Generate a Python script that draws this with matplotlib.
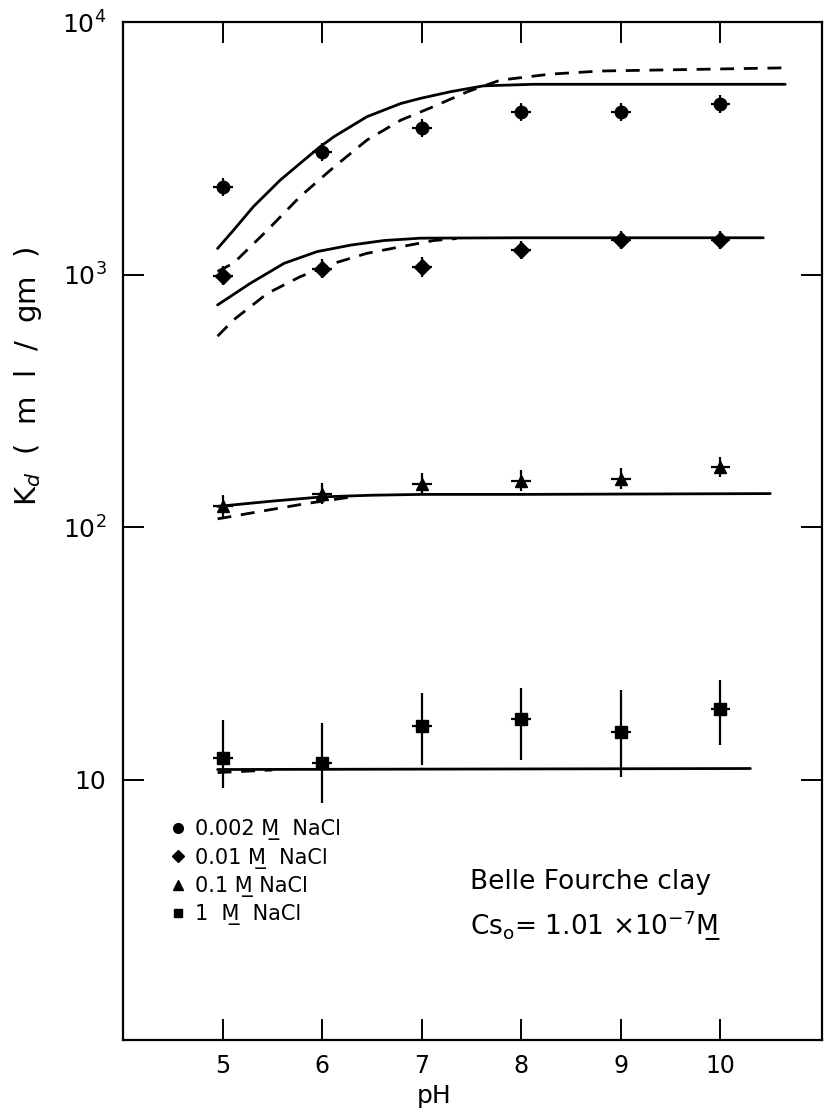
import numpy as np
import matplotlib
matplotlib.use("Agg")
import matplotlib.pyplot as plt
from matplotlib.lines import Line2D

plt.rcParams['font.family'] = ['DejaVu Sans']
plt.rcParams['mathtext.fontset'] = 'dejavusans'

# measured Kd values (ml/gm) vs pH, with error bar limits
ph = [5, 6, 7, 8, 9, 10]

kd_0002 = [2220, 3060, 3810, 4400, 4400, 4740]
lo_0002 = [2040, 2810, 3500, 4040, 4040, 4350]
hi_0002 = [2420, 3330, 4150, 4790, 4790, 5160]

kd_001 = [990, 1055, 1070, 1250, 1370, 1370]
lo_001 = [910, 970, 980, 1150, 1260, 1260]
hi_001 = [1080, 1150, 1170, 1360, 1490, 1490]

kd_01 = [121, 136, 149, 153, 156, 173]
lo_01 = [110, 124, 136, 139, 142, 158]
hi_01 = [134, 150, 164, 168, 172, 190]

kd_1 = [12.2, 11.7, 16.4, 17.4, 15.5, 19.1]
lo_1 = [9.3, 8.1, 11.5, 12.0, 10.3, 13.8]
hi_1 = [17.3, 16.8, 22.1, 23.1, 22.7, 24.9]

ph_err = 0.1

# model curves (solid and dashed)
top_solid_ph = [4.95, 5.11, 5.31, 5.58, 5.78, 5.98, 6.12, 6.45, 6.79, 6.99, 7.29, 7.62, 8.12, 9.0, 10.65]
top_solid_k = [1270, 1500, 1860, 2370, 2760, 3210, 3520, 4220, 4760, 4990, 5300, 5590, 5670, 5670, 5670]
top_dash_ph = [4.95, 5.11, 5.45, 5.78, 6.12, 6.45, 6.79, 7.12, 7.46, 7.79, 8.29, 8.8, 9.8, 10.67]
top_dash_k = [1030, 1110, 1500, 2040, 2670, 3410, 4090, 4630, 5300, 5890, 6220, 6400, 6500, 6590]

mid_solid_ph = [4.95, 5.28, 5.62, 5.95, 6.29, 6.62, 6.99, 8.0, 10.43]
mid_solid_k = [759, 925, 1110, 1234, 1310, 1365, 1395, 1400, 1400]
mid_dash_ph = [4.95, 5.11, 5.45, 5.78, 6.12, 6.45, 6.79, 7.12, 7.35]
mid_dash_k = [571, 662, 843, 982, 1110, 1215, 1290, 1365, 1390]

low_solid_ph = [4.95, 5.5, 6.0, 6.5, 7.0, 8.0, 10.5]
low_solid_k = [121, 127, 132, 134, 135, 135, 136]
low_dash_ph = [4.95, 5.4, 5.83, 6.3]
low_dash_k = [108, 116, 124, 132]

one_solid_ph = [4.95, 10.3]
one_solid_k = [11.0, 11.1]
one_dash_ph = [4.95, 5.5]
one_dash_k = [10.7, 10.95]

M_ = 'M\u0332'  # underlined M

fig = plt.figure(figsize=(8.27, 11.13), dpi=100)
ax = fig.add_axes([0.1487, 0.0656, 0.8453, 0.9146])

lw = 2.0
dash = (0, (5, 3.5))
for xs, ys in [(top_solid_ph, top_solid_k), (mid_solid_ph, mid_solid_k),
               (low_solid_ph, low_solid_k), (one_solid_ph, one_solid_k)]:
    ax.plot(xs, ys, color='black', lw=lw, solid_capstyle='round')
for xs, ys in [(top_dash_ph, top_dash_k), (mid_dash_ph, mid_dash_k),
               (low_dash_ph, low_dash_k), (one_dash_ph, one_dash_k)]:
    ax.plot(xs, ys, color='black', lw=lw, linestyle=dash)

series = [(kd_0002, lo_0002, hi_0002, 'o', 9),
          (kd_001, lo_001, hi_001, 'D', 8),
          (kd_01, lo_01, hi_01, '^', 9),
          (kd_1, lo_1, hi_1, 's', 8)]
for kd, lo, hi, mk, ms in series:
    kd = np.array(kd)
    yerr = [kd - np.array(lo), np.array(hi) - kd]
    ax.errorbar(ph, kd, yerr=yerr, xerr=ph_err, fmt=mk, color='black',
                ms=ms, elinewidth=1.6, capsize=0)

ax.set_yscale('log')
ax.set_xlim(4.0, 11.02)
ax.set_ylim(0.935, 1e4)

ax.set_xticks(ph)
ax.set_xticklabels(['5', '6', '7', '8', '9', '10'], fontsize=17)
ax.set_yticks([10, 100, 1000, 10000])
ax.set_yticklabels(['10', r'$10^2$', r'$10^3$', r'$10^4$'], fontsize=18)
ax.yaxis.set_minor_locator(matplotlib.ticker.NullLocator())
ax.tick_params(axis='both', which='major', direction='in', length=15, width=1.4,
               top=True, right=True)
ax.tick_params(axis='x', pad=10)
ax.tick_params(axis='y', pad=12)
for sp in ax.spines.values():
    sp.set_linewidth(1.6)

ax.set_xlabel('pH', fontsize=18)
ax.xaxis.set_label_coords(0.445, -0.043)
fig.text(0.034, 0.662, r'K$_d$  (  m  l  /  gm  )', rotation=90, fontsize=21,
         ha='center', va='center')

handles = [Line2D([], [], marker='o', color='black', ls='none', ms=7),
           Line2D([], [], marker='D', color='black', ls='none', ms=6),
           Line2D([], [], marker='^', color='black', ls='none', ms=7),
           Line2D([], [], marker='s', color='black', ls='none', ms=6)]
labels = ['0.002 ' + M_ + '  NaCl',
          '0.01 ' + M_ + '  NaCl',
          '0.1 ' + M_ + ' NaCl',
          '1  ' + M_ + '  NaCl']
ax.legend(handles, labels, loc='upper left', bbox_to_anchor=(0.055, 0.227),
          frameon=False, fontsize=15, handlelength=0.6, handletextpad=0.5,
          labelspacing=0.35, borderpad=0)

ax.text(0.497, 0.155, 'Belle Fourche clay', transform=ax.transAxes,
        fontsize=19, ha='left', va='center')
ax.text(0.497, 0.112, r'Cs$_\mathrm{o}$= 1.01 $\times$10$^{-7}$' + M_,
        transform=ax.transAxes, fontsize=19, ha='left', va='center')

fig.savefig('out.png', dpi=100)
